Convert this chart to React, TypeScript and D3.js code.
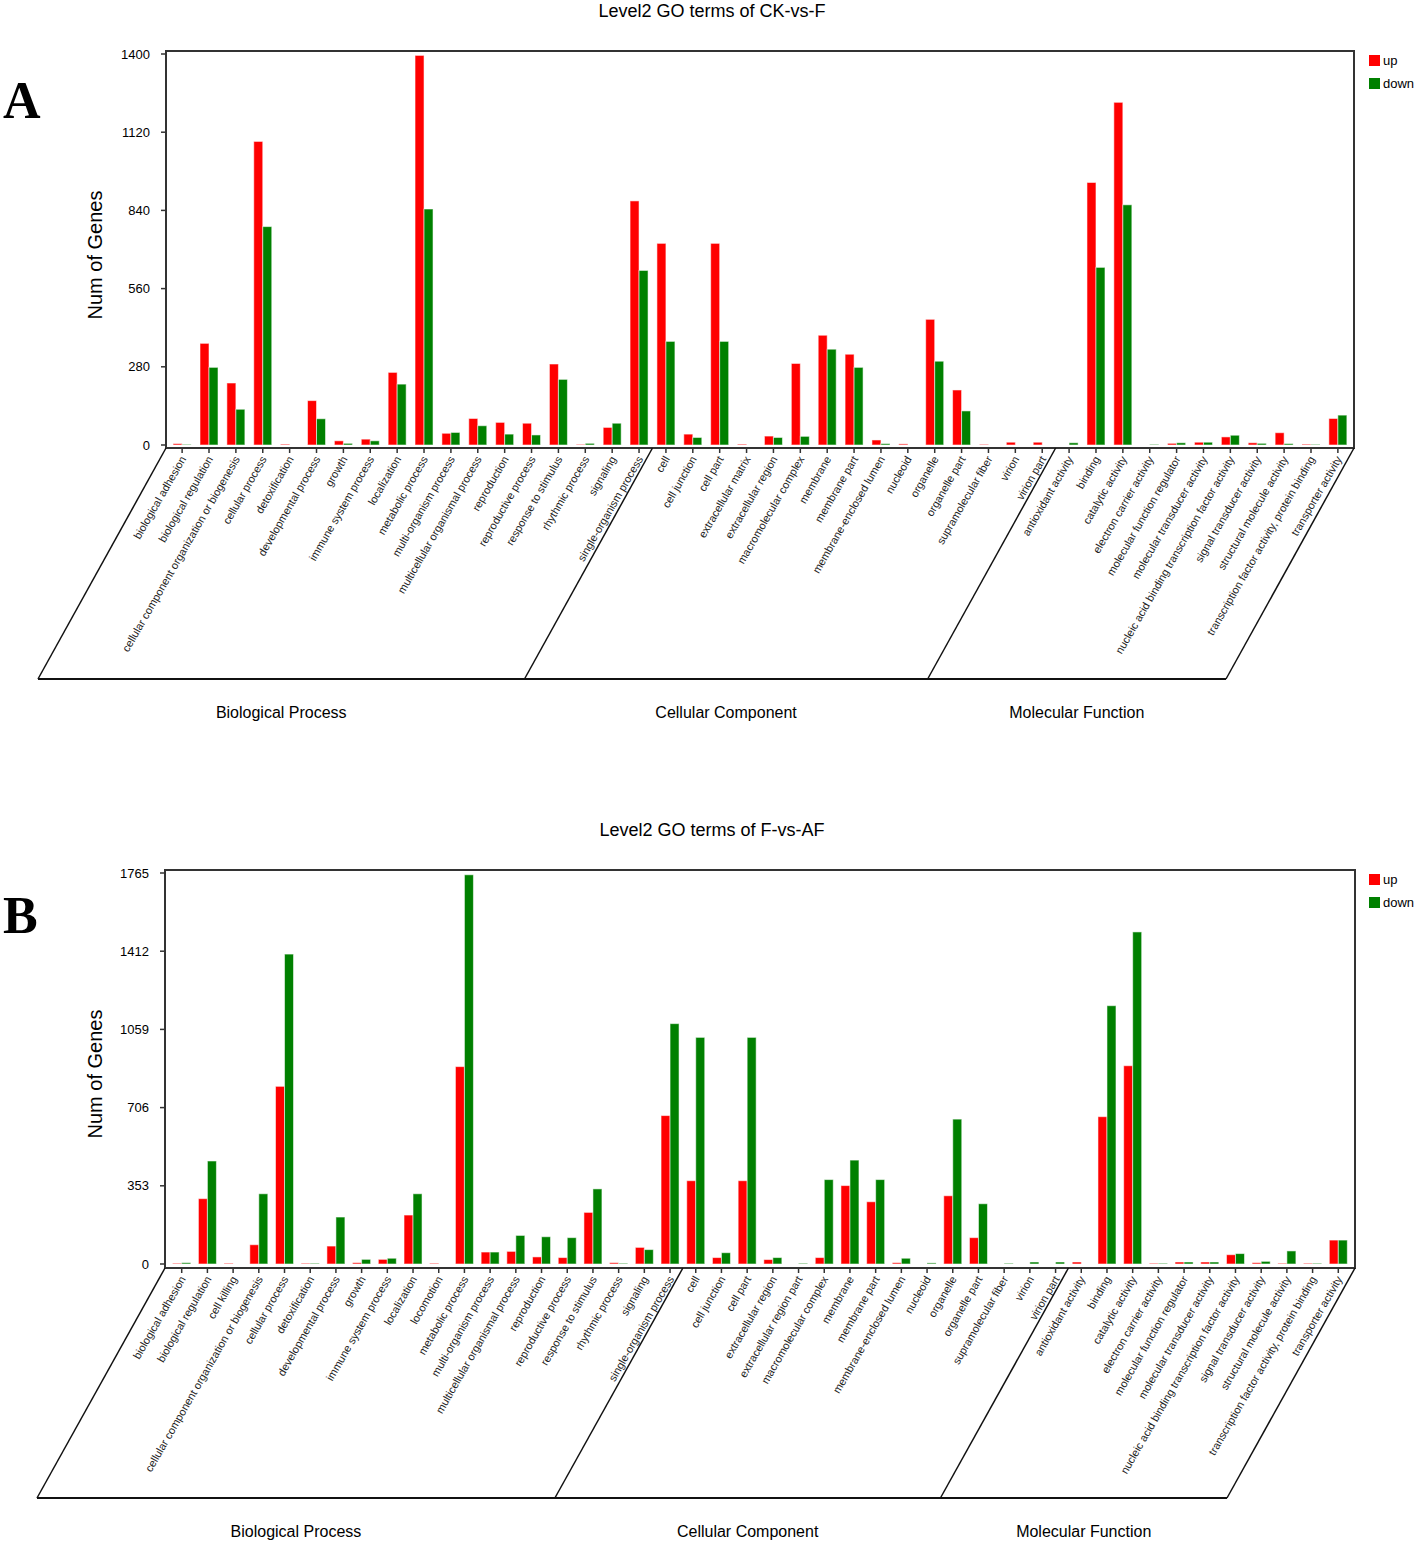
import * as d3 from 'd3';
import React, { useEffect, useRef } from 'react';

// GO level-2 terms, per ontology
const groupNames = ['Biological Process', 'Cellular Component', 'Molecular Function'];

const bpA = [
  'biological adhesion', 'biological regulation', 'cellular component organization or biogenesis',
  'cellular process', 'detoxification', 'developmental process', 'growth', 'immune system process',
  'localization', 'metabolic process', 'multi-organism process', 'multicellular organismal process',
  'reproduction', 'reproductive process', 'response to stimulus', 'rhythmic process', 'signaling',
  'single-organism process',
];
const ccA = [
  'cell', 'cell junction', 'cell part', 'extracellular matrix', 'extracellular region',
  'macromolecular complex', 'membrane', 'membrane part', 'membrane-enclosed lumen', 'nucleoid',
  'organelle', 'organelle part', 'supramolecular fiber', 'virion', 'virion part',
];
const bpB = [
  'biological adhesion', 'biological regulation', 'cell killing', 'cellular component organization or biogenesis',
  'cellular process', 'detoxification', 'developmental process', 'growth', 'immune system process',
  'localization', 'locomotion', 'metabolic process', 'multi-organism process', 'multicellular organismal process',
  'reproduction', 'reproductive process', 'response to stimulus', 'rhythmic process', 'signaling',
  'single-organism process',
];
const ccB = [
  'cell', 'cell junction', 'cell part', 'extracellular region', 'extracellular region part',
  'macromolecular complex', 'membrane', 'membrane part', 'membrane-enclosed lumen', 'nucleoid',
  'organelle', 'organelle part', 'supramolecular fiber', 'virion', 'virion part',
];
const mfTerms = [
  'antioxidant activity', 'binding', 'catalytic activity', 'electron carrier activity',
  'molecular function regulator', 'molecular transducer activity',
  'nucleic acid binding transcription factor activity', 'signal transducer activity',
  'structural molecule activity', 'transcription factor activity, protein binding', 'transporter activity',
];

// CK-vs-F
const aUp = [
  5, 364, 222, 1087, 3, 159, 15, 21, 260, 1395, 42, 95, 81, 78, 290, 2, 63, 874,
  722, 39, 722, 3, 32, 292, 393, 325, 18, 4, 450, 197, 2, 10, 10,
  0, 940, 1227, 0, 6, 10, 29, 8, 44, 3, 95,
];
const aDown = [
  2, 278, 128, 782, 0, 94, 6, 15, 218, 845, 45, 69, 39, 36, 235, 6, 78, 625,
  371, 27, 371, 0, 27, 31, 343, 278, 5, 0, 300, 122, 0, 0, 0,
  8, 636, 860, 2, 8, 10, 35, 6, 5, 2, 107,
];
const aTicks = [0, 280, 560, 840, 1120, 1400];

// F-vs-AF
const bUp = [
  3, 295, 3, 87, 802, 3, 81, 6, 21, 221, 3, 891, 54, 57, 32, 29, 233, 6, 75, 670,
  376, 29, 376, 20, 0, 29, 354, 281, 6, 0, 308, 119, 0, 0, 0,
  9, 665, 895, 3, 9, 9, 42, 6, 3, 3, 108,
];
const bDown = [
  6, 465, 0, 317, 1399, 3, 212, 21, 26, 317, 0, 1757, 54, 129, 123, 119, 339, 3, 65, 1085,
  1023, 51, 1023, 29, 3, 381, 469, 381, 26, 5, 654, 272, 3, 9, 9,
  0, 1166, 1499, 3, 9, 9, 47, 12, 59, 3, 108,
];
const bTicks = [0, 353, 706, 1059, 1412, 1765];

const sans = '"Liberation Sans", Arial, Helvetica, sans-serif';

type Layout = {
  left: number; right: number; pad: number;
  frameTop: number; frameBottom: number; maxY: number; zero: number;
  bottom: number; titleY: number; letterY: number; yLabelY: number; groupY: number;
};

type Props = {
  title: string;
  letter: string;
  groups: string[][];
  up: number[];
  down: number[];
  ticks: number[];
  layout: Layout;
};

const GoPanel: React.FC<Props> = ({ title, letter, groups, up, down, ticks, layout }) => {
  const ref = useRef<SVGGElement | null>(null);

  useEffect(() => {
    const g = d3.select(ref.current);
    g.selectAll('*').remove();
    const L = layout;
    const terms = groups.flat();
    const x = d3.scalePoint<string>().domain(terms).range([L.left, L.right]).padding(L.pad);
    const y = d3.scaleLinear().domain([0, ticks[ticks.length - 1]]).range([L.zero, L.maxY]);
    const bw = 9;
    const slant = 128;

    // bars
    const series = [
      { vals: up, color: '#ff0000', off: -bw },
      { vals: down, color: '#008000', off: 0 },
    ];
    series.forEach(s => {
      g.append('g')
        .selectAll('rect')
        .data(terms.map((t, i) => ({ t, v: s.vals[i] })).filter(d => d.v > 0))
        .enter()
        .append('rect')
        .attr('x', d => (x(d.t) ?? 0) + s.off)
        .attr('y', d => y(d.v))
        .attr('width', bw)
        .attr('height', d => L.zero - y(d.v))
        .attr('fill', s.color)
        .attr('stroke', '#ffffff')
        .attr('stroke-opacity', 0.55)
        .attr('stroke-width', 1);
    });

    // frame
    g.append('rect')
      .attr('x', L.left).attr('y', L.frameTop)
      .attr('width', L.right - L.left).attr('height', L.frameBottom - L.frameTop)
      .attr('fill', 'none').attr('stroke', '#333').attr('stroke-width', 2);

    // y ticks
    const yt = g.append('g');
    ticks.forEach(t => {
      yt.append('line')
        .attr('x1', L.left - 5).attr('x2', L.left)
        .attr('y1', y(t)).attr('y2', y(t))
        .attr('stroke', '#333').attr('stroke-width', 1.5);
      yt.append('text')
        .attr('x', L.left - 16).attr('y', y(t)).attr('dy', '0.35em')
        .attr('text-anchor', 'end')
        .attr('font-family', sans).attr('font-size', 13)
        .text(t);
    });

    // x ticks + labels
    const xt = g.append('g');
    terms.forEach(t => {
      const px = x(t) ?? 0;
      xt.append('line')
        .attr('x1', px).attr('x2', px)
        .attr('y1', L.frameBottom).attr('y2', L.frameBottom + 5)
        .attr('stroke', '#333').attr('stroke-width', 1.5);
      xt.append('text')
        .attr('transform', `translate(${px + 1},${L.frameBottom + 9}) rotate(-60)`)
        .attr('dy', '0.35em')
        .attr('text-anchor', 'end')
        .attr('font-family', sans).attr('font-size', 11)
        .attr('fill', '#222')
        .text(t);
    });

    // parallelogram group boxes
    const bounds: number[] = [L.left];
    let idx = 0;
    groups.forEach((gr, gi) => {
      idx += gr.length;
      if (gi < groups.length - 1) {
        bounds.push(((x(terms[idx - 1]) ?? 0) + (x(terms[idx]) ?? 0)) / 2);
      }
    });
    bounds.push(L.right);
    const box = g.append('g').attr('stroke', '#111').attr('stroke-width', 1.5);
    bounds.forEach(b => {
      box.append('line')
        .attr('x1', b).attr('y1', L.frameBottom)
        .attr('x2', b - slant).attr('y2', L.bottom);
    });
    box.append('line')
      .attr('x1', L.left - slant).attr('x2', L.right - slant)
      .attr('y1', L.bottom).attr('y2', L.bottom)
      .attr('stroke-width', 2);

    groupNames.forEach((n, i) => {
      g.append('text')
        .attr('x', (bounds[i] + bounds[i + 1]) / 2 - slant)
        .attr('y', L.groupY)
        .attr('text-anchor', 'middle')
        .attr('font-family', sans).attr('font-size', 16)
        .text(n);
    });

    // titles
    g.append('text')
      .attr('x', 712).attr('y', L.titleY)
      .attr('text-anchor', 'middle')
      .attr('font-family', sans).attr('font-size', 18)
      .text(title);
    g.append('text')
      .attr('x', 3).attr('y', L.letterY)
      .attr('font-family', '"Liberation Serif", "Times New Roman", serif')
      .attr('font-weight', 'bold').attr('font-size', 52)
      .text(letter);
    g.append('text')
      .attr('transform', `translate(95,${L.yLabelY}) rotate(-90)`)
      .attr('dy', '0.35em')
      .attr('text-anchor', 'middle')
      .attr('font-family', sans).attr('font-size', 20)
      .text('Num of Genes');

    // legend
    const lg = g.append('g');
    [['up', '#ff0000'], ['down', '#008000']].forEach(([name, c], i) => {
      const ly = L.frameTop + 4 + i * 23;
      lg.append('rect').attr('x', 1369).attr('y', ly).attr('width', 11).attr('height', 11).attr('fill', c);
      lg.append('text')
        .attr('x', 1383).attr('y', ly + 5.5).attr('dy', '0.35em')
        .attr('font-family', sans).attr('font-size', 13)
        .text(name);
    });
  }, [title, letter, groups, up, down, ticks, layout]);

  return <g ref={ref} />;
};

const layoutA: Layout = {
  left: 166, right: 1354, pad: 0.6,
  frameTop: 51, frameBottom: 448, maxY: 54, zero: 445,
  bottom: 679, titleY: 17, letterY: 118, yLabelY: 255, groupY: 718,
};
const layoutB: Layout = {
  left: 165, right: 1355, pad: 0.65,
  frameTop: 870, frameBottom: 1268, maxY: 873, zero: 1264,
  bottom: 1498, titleY: 836, letterY: 933, yLabelY: 1074, groupY: 1537,
};

export default function App() {
  return (
    <svg width={1418} height={1544} style={{ position: 'absolute', left: 0, top: 0, background: '#fff' }}>
      <GoPanel title="Level2 GO terms of CK-vs-F" letter="A" groups={[bpA, ccA, mfTerms]}
        up={aUp} down={aDown} ticks={aTicks} layout={layoutA} />
      <GoPanel title="Level2 GO terms of F-vs-AF" letter="B" groups={[bpB, ccB, mfTerms]}
        up={bUp} down={bDown} ticks={bTicks} layout={layoutB} />
    </svg>
  );
}
